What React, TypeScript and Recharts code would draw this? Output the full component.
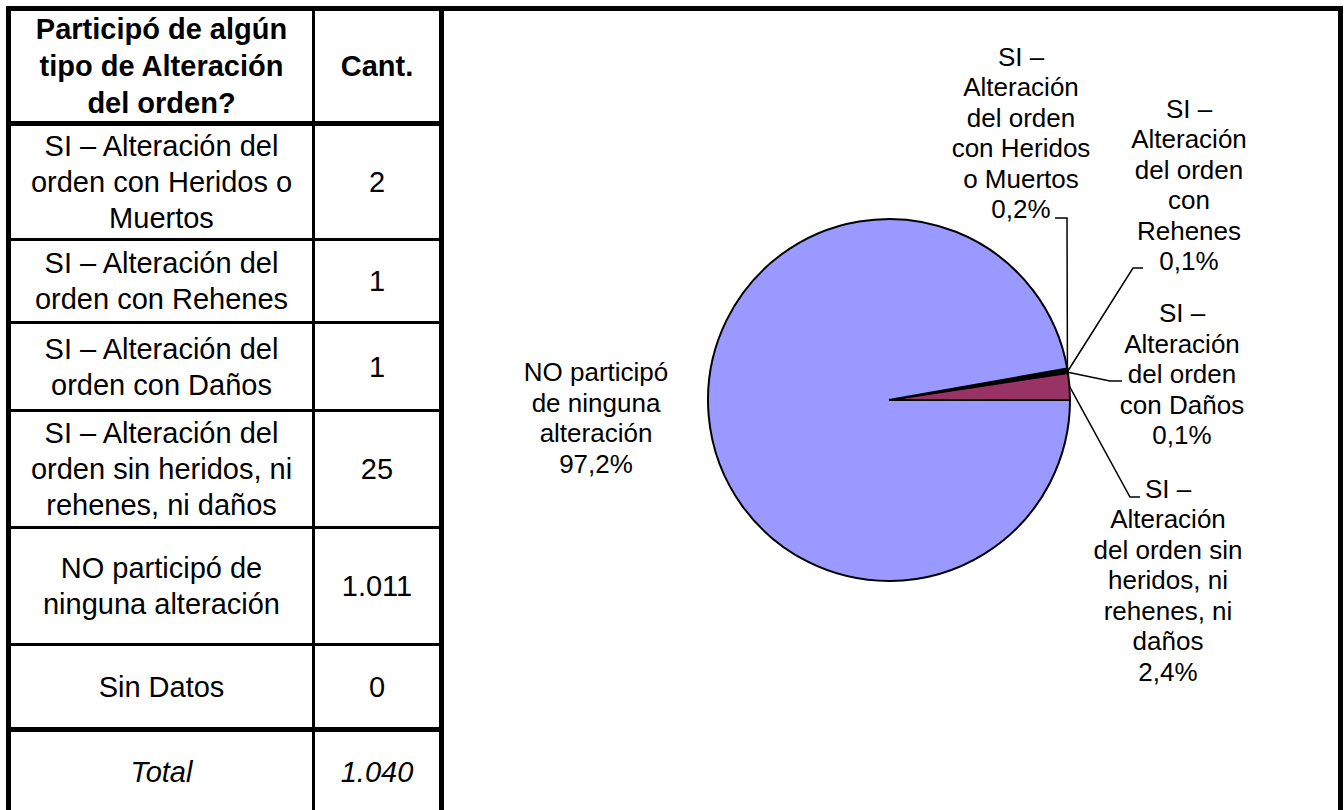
import React from "react";
import { PieChart, Pie, Cell } from "recharts";

// categories, counts (table order == pie order, clockwise)
const CATEGORIES = [
  "SI – Alteración del orden con Heridos o Muertos",
  "SI – Alteración del orden con Rehenes",
  "SI – Alteración del orden con Daños",
  "SI – Alteración del orden sin heridos, ni rehenes, ni daños",
  "NO participó de ninguna alteración",
  "Sin Datos",
];
const COUNTS = [2, 1, 1, 25, 1011, 0];

const HEADER_LINES = ["Participó de algún", "tipo de Alteración", "del orden?"];
const HEADER_COUNT = "Cant.";
const TOTAL_LABEL = "Total";

// how each category wraps in the table and next to the pie
const TABLE_LINES = [
  ["SI – Alteración del", "orden con Heridos o", "Muertos"],
  ["SI – Alteración del", "orden con Rehenes"],
  ["SI – Alteración del", "orden con Daños"],
  ["SI – Alteración del", "orden sin heridos, ni", "rehenes, ni daños"],
  ["NO participó de", "ninguna alteración"],
  ["Sin Datos"],
];
const PIE_LINES = [
  ["SI –", "Alteración", "del orden", "con Heridos", "o Muertos"],
  ["SI –", "Alteración", "del orden", "con", "Rehenes"],
  ["SI –", "Alteración", "del orden", "con Daños"],
  ["SI –", "Alteración", "del orden sin", "heridos, ni", "rehenes, ni", "daños"],
  ["NO participó", "de ninguna", "alteración"],
  [],
];
const SLICE_COLORS = ["#660066", "#333399", "#003366", "#993366", "#9999FF", "#FFFFCC"];

// label placement, offsets from the pie centre (label centre + leader bend points)
const LABEL_POS = [
  { dx: 132, dy: -267, bend: [[178, -182], [166, -182]] },
  { dx: 300, dy: -215, bend: [[244, -132], [254, -132]] },
  { dx: 293, dy: -26, bend: [[221, -19], [233, -19]] },
  { dx: 279, dy: 180, bend: [[241, 97], [251, 97]] },
  { dx: -293, dy: 18, bend: [] },
  { dx: 0, dy: 0, bend: [] },
];

const FONT = '"Liberation Sans", Arial, sans-serif';
const RAD = Math.PI / 180;

const fmtInt = (n: number) => String(n).replace(/\B(?=(\d{3})+(?!\d))/g, ".");
const fmtPct = (p: number) => (p * 100).toFixed(1).replace(".", ",") + "%";

const total = COUNTS.reduce((a, b) => a + b, 0);
const pieRows = CATEGORIES.map((name, i) => ({ name, value: COUNTS[i], idx: i })).filter(r => r.value > 0);

// table geometry
const ROWS_Y: [number, number][] = [
  [11, 121], [126, 238], [241, 321], [324, 409], [412, 526], [529, 643], [646, 727], [732, 812],
];
const HLINES: [number, number][] = [[121, 5], [238, 3], [321, 3], [409, 3], [526, 3], [643, 3], [727, 5]];

function PieLabel(props: any) {
  const { cx, cy, midAngle, outerRadius, percent, payload } = props;
  const i = payload.idx;
  const pos = LABEL_POS[i];
  const ex = cx + outerRadius * Math.cos(-midAngle * RAD);
  const ey = cy + outerRadius * Math.sin(-midAngle * RAD);
  const lines = [...PIE_LINES[i], fmtPct(percent)];
  const lh = 30.5;
  const lx = cx + pos.dx;
  const ly = cy + pos.dy;
  const pts = [[ex, ey], ...pos.bend.map(([bx, by]) => [cx + bx, cy + by])];
  return (
    <g>
      {pos.bend.length > 0 && (
        <polyline points={pts.map(p => p.join(",")).join(" ")} fill="none" stroke="#000" strokeWidth={1.5} />
      )}
      <text textAnchor="middle" fontFamily={FONT} fontSize={26} fill="#000">
        {lines.map((t, k) => (
          <tspan key={k} x={lx} y={ly + (k - (lines.length - 1) / 2) * lh + 9}>{t}</tspan>
        ))}
      </text>
    </g>
  );
}

function Cellbox({ x, w, y0, y1, lines, bold, italic, lh }: any) {
  return (
    <div style={{
      position: "absolute", left: x, top: y0, width: w, height: y1 - y0,
      display: "flex", alignItems: "center", justifyContent: "center", textAlign: "center",
      fontFamily: FONT, fontSize: 29, lineHeight: `${lh}px`, fontWeight: bold ? 700 : 400,
      fontStyle: italic ? "italic" : "normal", color: "#000",
    }}>
      <div>{lines.map((l: string, k: number) => <div key={k} style={{ whiteSpace: "nowrap" }}>{l}</div>)}</div>
    </div>
  );
}

export default function App() {
  const line = (s: React.CSSProperties, k: string | number) => (
    <div key={k} style={{ position: "absolute", background: "#000", ...s }} />
  );
  return (
    <div style={{ position: "absolute", left: 0, top: 0, width: 1344, height: 810, overflow: "hidden", background: "#fff" }}>
      <div style={{ position: "absolute", left: 6, top: 6, width: 1337, height: 812, border: "5px solid #000", boxSizing: "border-box" }} />
      {line({ left: 312, top: 11, width: 3, height: 805 }, "v1")}
      {line({ left: 439, top: 11, width: 5, height: 805 }, "v2")}
      {HLINES.map(([y, h], k) => line({ left: 11, top: y, width: 428, height: h }, "h" + k))}

      <Cellbox x={11} w={301} y0={ROWS_Y[0][0]} y1={ROWS_Y[0][1]} lines={HEADER_LINES} bold lh={37} />
      <Cellbox x={315} w={124} y0={ROWS_Y[0][0]} y1={ROWS_Y[0][1]} lines={[HEADER_COUNT]} bold lh={37} />
      {TABLE_LINES.map((ls, i) => (
        <React.Fragment key={i}>
          <Cellbox x={11} w={301} y0={ROWS_Y[i + 1][0]} y1={ROWS_Y[i + 1][1]} lines={ls} lh={36} />
          <Cellbox x={315} w={124} y0={ROWS_Y[i + 1][0]} y1={ROWS_Y[i + 1][1]} lines={[fmtInt(COUNTS[i])]} lh={36} />
        </React.Fragment>
      ))}
      <Cellbox x={11} w={301} y0={ROWS_Y[7][0]} y1={ROWS_Y[7][1]} lines={[TOTAL_LABEL]} italic lh={36} />
      <Cellbox x={315} w={124} y0={ROWS_Y[7][0]} y1={ROWS_Y[7][1]} lines={[fmtInt(total)]} italic lh={36} />

      <div style={{ position: "absolute", left: 444, top: 11 }}>
        <PieChart width={894} height={800} margin={{ top: 0, right: 0, bottom: 0, left: 0 }}>
          <Pie
            data={pieRows}
            dataKey="value"
            nameKey="name"
            cx={445}
            cy={389}
            outerRadius={181}
            startAngle={10}
            endAngle={-350}
            stroke="#000"
            strokeWidth={2}
            label={PieLabel}
            labelLine={false}
            isAnimationActive={false}
          >
            {pieRows.map(r => <Cell key={r.idx} fill={SLICE_COLORS[r.idx]} />)}
          </Pie>
        </PieChart>
      </div>
    </div>
  );
}
